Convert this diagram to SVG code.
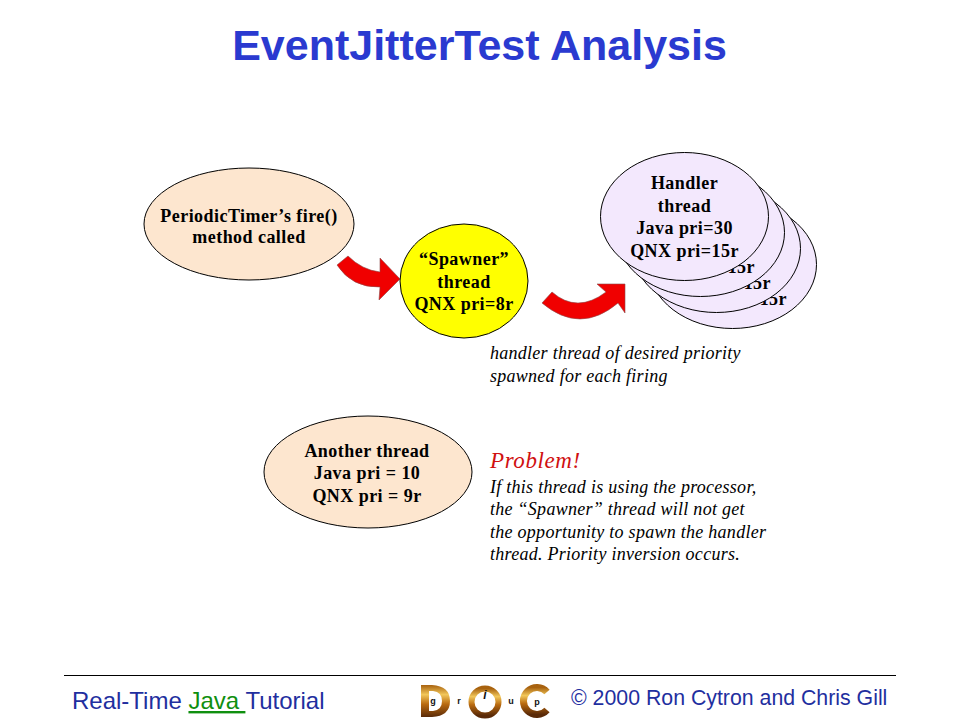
<svg xmlns="http://www.w3.org/2000/svg" width="960" height="720" viewBox="0 0 960 720">
<defs>
<linearGradient id="gold" x1="0" y1="0" x2="0" y2="1">
<stop offset="0" stop-color="#a8620f"/><stop offset="0.3" stop-color="#f2c75a"/><stop offset="0.6" stop-color="#b96a10"/><stop offset="1" stop-color="#5a2a08"/>
</linearGradient>
</defs>
<style>
.node{stroke:#000;stroke-width:1}
.peach{fill:#fde6cf}
.lilac{fill:#f3e8fd}
.b{font:bold 18px "Liberation Serif","Times New Roman",serif;fill:#000;text-anchor:middle;letter-spacing:.45px}
.e{text-anchor:end}
.i{font:italic 18px "Liberation Serif","Times New Roman",serif;fill:#000;letter-spacing:.27px}
.s{font:24px "Liberation Sans",Arial,sans-serif;fill:#1f2f9f}
.arrow{fill:#f00000;stroke:#8a4a4a;stroke-width:.6}
.lg{font:bold 9px "Liberation Sans",Arial,sans-serif;fill:#111;text-anchor:middle}
</style>
<rect width="960" height="720" fill="#fff"/>
<text x="479.500" y="60" text-anchor="middle" style="font:bold 43px 'Liberation Sans',Arial,sans-serif;fill:#2a3ad0">EventJitterTest Analysis</text>
<g id="connectors">
<path class="arrow" d="M348 256Q362 270 380 272L380 258L400 279L379 300L380 287Q352 288 337 265Z"/>
<path class="arrow" d="M552 292Q577 314 606 292L597 284L625 284L625 313L618 303Q580 335 542 303Z"/>
</g>
<g id="periodic"><ellipse class="node peach" cx="249" cy="224" rx="105" ry="56"/>
<text class="b" x="249" y="222">PeriodicTimer’s fire()</text><text class="b" x="249" y="243">method called</text></g>
<g id="spawner"><ellipse class="node" fill="#ffff00" cx="464" cy="281" rx="64" ry="57"/>
<text class="b" x="464" y="265">“Spawner”</text><text class="b" x="464" y="288">thread</text><text class="b" x="464" y="310">QNX pri=8r</text></g>
<g id="handler4"><ellipse class="node lilac" cx="732.500" cy="264.500" rx="84" ry="64"/>
<text class="b e" x="787" y="305">15r</text></g>
<g id="handler3"><ellipse class="node lilac" cx="716.500" cy="248.500" rx="84" ry="64"/>
<text class="b e" x="771" y="289">15r</text></g>
<g id="handler2"><ellipse class="node lilac" cx="700.500" cy="232.500" rx="84" ry="64"/>
<text class="b e" x="755" y="273">15r</text></g>
<g id="handler1"><ellipse class="node lilac" cx="684.500" cy="216.500" rx="84" ry="64"/>
<text class="b" x="684.500" y="189">Handler</text><text class="b" x="684.500" y="212">thread</text><text class="b" x="684.500" y="234">Java pri=30</text><text class="b" x="684.500" y="257">QNX pri=15r</text></g>
<g id="another"><ellipse class="node peach" cx="368" cy="472" rx="104" ry="56"/>
<text class="b" x="367" y="457">Another thread</text><text class="b" x="367" y="479">Java pri = 10</text><text class="b" x="367" y="502">QNX pri = 9r</text></g>
<text class="i" x="490" y="359">handler thread of desired priority</text>
<text class="i" x="490" y="382">spawned for each firing</text>
<text class="i" x="490" y="468" style="font-size:23px;letter-spacing:.6px;fill:#d01010">Problem!</text>
<text class="i" x="490" y="493">If this thread is using the processor,</text>
<text class="i" x="490" y="515">the “Spawner” thread will not get</text>
<text class="i" x="490" y="538">the opportunity to spawn the handler</text>
<text class="i" x="490" y="560">thread. Priority inversion occurs.</text>
<line x1="64" y1="675.500" x2="896" y2="675.500" stroke="#000" stroke-width="1.200"/>
<text class="s" x="72" y="709">Real-Time <tspan fill="#0f8f0f" text-decoration="underline">Java </tspan>Tutorial</text>
<text class="s" x="571" y="705" style="font-size:21.300px">© 2000 Ron Cytron and Chris Gill</text>
<g id="logo">
<path fill="url(#gold)" fill-rule="evenodd" d="M421 685H432Q450 686 450 701Q450 716 432 717H421ZM429 691V711H433Q442 710 442 701Q442 692 433 691Z"/>
<circle cx="485" cy="702" r="13.500" fill="none" stroke="url(#gold)" stroke-width="6"/>
<path fill="none" stroke="url(#gold)" stroke-width="7" d="M547 692A13.500 13.500 0 1 0 547 710"/>
<text class="lg" x="433" y="704">g</text><text class="lg" x="459" y="704">r</text><text class="lg" x="485" y="699" style="font-style:italic;font-size:12px">i</text><text class="lg" x="511" y="704">u</text><text class="lg" x="537" y="705">p</text>
</g>
</svg>
